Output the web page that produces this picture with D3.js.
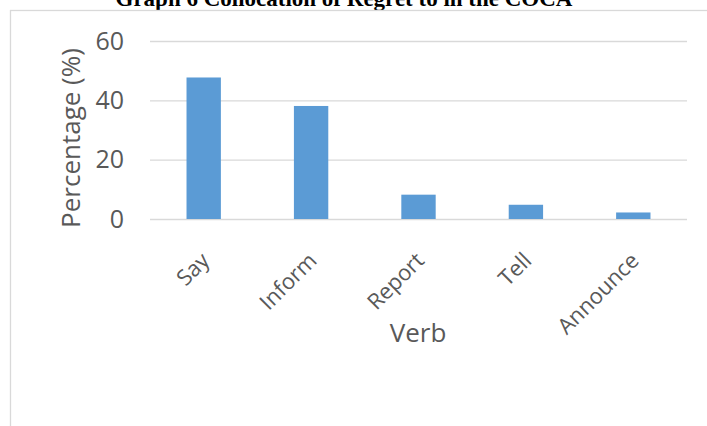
<!DOCTYPE html>
<html>
<head>
<meta charset="utf-8">
<script src="https://cdn.jsdelivr.net/npm/d3@7"></script>
<style>
  body { margin: 0; background: #fff; }
  svg { display: block; }
  .tick text { fill: #595959; }
</style>
</head>
<body>
<div id="container"></div>
<script>
const verbs = ["Say", "Inform", "Report", "Tell", "Announce"];
const percentages = [47.7, 38.1, 8.2, 4.8, 2.2];
const yTicks = [0, 20, 40, 60];

const W = 707, H = 426;
const plot = { left: 150, right: 687, top: 41, bottom: 219 };
const labelFont = "'Segoe UI', 'Open Sans', sans-serif";

const data = verbs.map((v, i) => ({ verb: v, value: percentages[i] }));

const svg = d3.select('#container').append('svg')
    .attr('width', W)
    .attr('height', H);

// title, mostly clipped by the top edge like the original
svg.append('text')
    .attr('x', 344)
    .attr('y', 6)
    .attr('text-anchor', 'middle')
    .attr('font-family', "'Liberation Serif', 'Times New Roman', serif")
    .attr('font-weight', 'bold')
    .attr('font-size', 23)
    .attr('fill', '#000')
    .text('Graph 6 Collocation of Regret to in the COCA');

// chart frame
svg.append('rect')
    .attr('x', 10.5)
    .attr('y', 10.5)
    .attr('width', 760)
    .attr('height', 460)
    .attr('fill', 'none')
    .attr('stroke', '#d9d9d9')
    .attr('stroke-width', 1.3);

const xScale = d3.scaleBand()
    .range([plot.left, plot.right])
    .domain(verbs)
    .paddingInner(0.68)
    .paddingOuter(0.34);

const yScale = d3.scaleLinear()
    .range([plot.bottom, plot.top])
    .domain([0, 60]);

// gridlines
svg.append('g')
    .attr('transform', `translate(${plot.left}, 0)`)
    .call(d3.axisLeft(yScale)
        .tickValues(yTicks)
        .tickSize(-(plot.right - plot.left))
        .tickFormat(''))
    .call(g => g.select('.domain').remove())
    .call(g => g.selectAll('line').attr('stroke', '#d9d9d9').attr('stroke-width', 1.3));

// y tick labels
svg.append('g')
    .attr('transform', `translate(${plot.left}, 0)`)
    .call(d3.axisLeft(yScale)
        .tickValues(yTicks)
        .tickSize(0)
        .tickPadding(26))
    .call(g => g.select('.domain').remove())
    .call(g => g.selectAll('text')
        .attr('font-family', labelFont)
        .attr('font-size', 25));

// bars
svg.append('g')
    .selectAll('rect')
    .data(data)
    .enter()
    .append('rect')
    .attr('x', d => xScale(d.verb))
    .attr('y', d => yScale(d.value))
    .attr('width', xScale.bandwidth())
    .attr('height', d => yScale(0) - yScale(d.value))
    .attr('fill', '#5b9bd5');

// x tick labels, rotated
svg.append('g')
    .selectAll('text')
    .data(verbs)
    .enter()
    .append('text')
    .attr('transform', d => `translate(${xScale(d) + xScale.bandwidth() / 2 + 7}, ${plot.bottom + 43}) rotate(-45)`)
    .attr('text-anchor', 'end')
    .attr('font-family', labelFont)
    .attr('font-size', 22)
    .attr('fill', '#595959')
    .text(d => d);

// axis titles
svg.append('text')
    .attr('transform', `translate(80, ${(plot.top + plot.bottom) / 2 + 8}) rotate(-90)`)
    .attr('text-anchor', 'middle')
    .attr('font-family', labelFont)
    .attr('font-size', 26)
    .attr('fill', '#595959')
    .text('Percentage (%)');

svg.append('text')
    .attr('x', 418)
    .attr('y', 342)
    .attr('text-anchor', 'middle')
    .attr('font-family', labelFont)
    .attr('font-size', 26)
    .attr('fill', '#595959')
    .text('Verb');
</script>
</body>
</html>
